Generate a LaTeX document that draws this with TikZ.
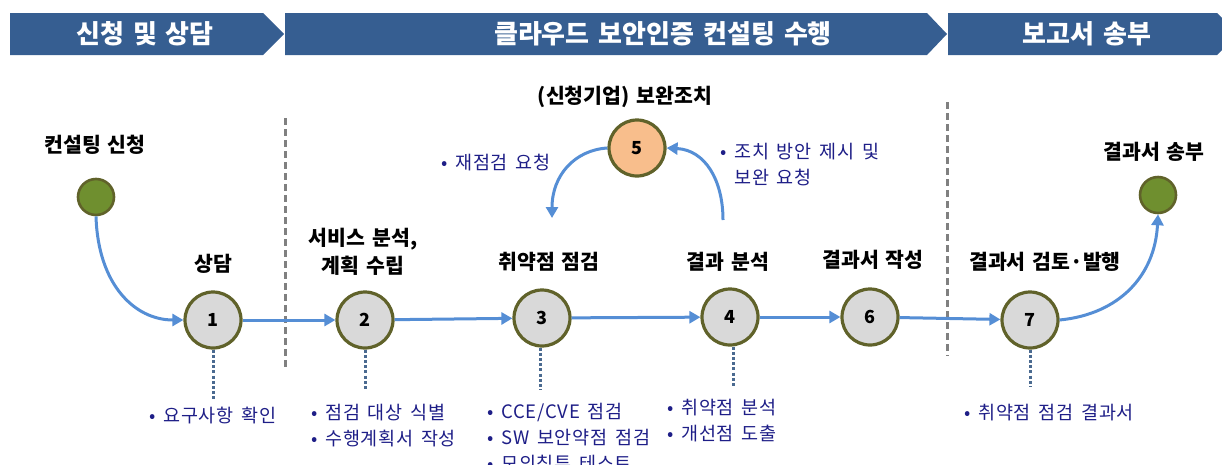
\documentclass[tikz,border=0pt]{standalone}
\usepackage{fontspec}
\setmainfont{Noto Sans CJK KR}
\newfontfamily\titlefont[WordSpace=1.5]{Noto Sans CJK KR}
\newfontfamily\notefont[LetterSpace=4,WordSpace=1.6]{Noto Sans CJK KR}
\usetikzlibrary{arrows.meta,calc}
\definecolor{barblue}{RGB}{54,94,145}
\definecolor{flowblue}{RGB}{85,142,213}
\definecolor{rimolive}{RGB}{96,98,42}
\definecolor{startgreen}{RGB}{111,143,47}
\definecolor{nodegray}{RGB}{217,217,217}
\definecolor{actorange}{RGB}{248,190,140}
\definecolor{notenavy}{RGB}{30,30,135}
\definecolor{leadgray}{RGB}{74,106,144}

\begin{document}
\begin{tikzpicture}[x=1pt,y=-1pt,
    phase/.style={fill=barblue},
    phasetext/.style={text=white,font=\titlefont\fontsize{26}{30}\selectfont\bfseries},
    stage/.style={circle,draw=rimolive,line width=3.2pt,fill=nodegray,minimum size=56pt,inner sep=0pt,font=\fontsize{18}{20}\selectfont\bfseries},
    endpt/.style={circle,draw=rimolive,line width=2.6pt,fill=startgreen,minimum size=36pt,inner sep=0pt},
    title/.style={font=\titlefont\fontsize{20.5}{28}\selectfont\bfseries,align=center,inner sep=0pt},
    note/.style={text=notenavy,font=\notefont\fontsize{18.5}{26}\selectfont,align=left,anchor=west,inner sep=0pt},
    flow/.style={-{Triangle[length=11pt,width=12pt]},draw=flowblue,line width=3pt},
    lead/.style={draw=leadgray,line width=3pt,dash pattern=on 3pt off 2.2pt},
    split/.style={draw=gray,line width=3pt,dash pattern=on 7pt off 4pt}]
    \useasboundingbox (0,0) rectangle (1222,464);
    \clip (0,0) rectangle (1222,464);

    % phase bars
    \fill[phase] (10,13)--(263,13)--(284,34)--(263,55)--(10,55)--cycle;
    \fill[phase] (285,13)--(927,13)--(947,34)--(927,55)--(285,55)--cycle;
    \fill[phase] (948,13)--(1217,13)--(1238,34)--(1217,55)--(948,55)--cycle;
    \node[phasetext] (ph1) at (145,34) {신청 및 상담};
    \node[phasetext] (ph2) at (663,34) {클라우드 보안인증 컨설팅 수행};
    \node[phasetext] (ph3) at (1087,34) {보고서 송부};

    % separators
    \draw[split] (285,118)--(285,368);
    \draw[split] (947,102)--(947,356);

    % stages
    \node[endpt] (s0) at (96,197) {};
    \node[stage] (s1) at (213,320) {1};
    \node[stage] (s2) at (365,320) {2};
    \node[stage] (s3) at (542,318) {3};
    \node[stage] (s4) at (730,317) {4};
    \node[stage,fill=actorange] (s5) at (637,148) {5};
    \node[stage] (s6) at (870,317) {6};
    \node[stage] (s7) at (1030,320) {7};
    \node[endpt] (s8) at (1158,195) {};

    % titles
    \node[title] (t0) at (95,145) {컨설팅 신청};
    \node[title] (t1) at (213,264) {상담};
    \node[title] (t2) at (363,252) {서비스 분석,\\계획 수립};
    \node[title] (t3) at (549,262) {취약점 점검};
    \node[title] (t4) at (728,262) {결과 분석};
    \node[title] (t5) at (625,97) {(신청기업) 보완조치};
    \node[title] (t6) at (873,260) {결과서 작성};
    \node[title] (t7) at (1045,262) {결과서 검토·발행};
    \node[title] (t8) at (1154,152) {결과서 송부};

    % flow
    \coordinate (r5) at (723,220);
    \coordinate (r3) at (552,218);
    \draw[flow] (s0.south) .. controls (98,285) and (135,320) .. (s1.west);
    \draw[flow] (s1) -- (s2);
    \draw[flow] (s2) -- (s3);
    \draw[flow] (s3) -- (s4);
    \draw[flow] (s4) -- (s6);
    \draw[flow] (s6) -- (s7);
    \draw[flow] (r5) .. controls (723,180) and (705,150) .. (s5.east);
    \draw[flow] (s5.west) .. controls (575,150) and (552,175) .. (r3);
    \draw[flow] (s7.east) .. controls (1120,314) and (1155,275) .. (s8.south);

    % notes
    \node[note] (n5a) at (441,163) {• 재점검 요청};
    \node[note] (n5b) at (720,165) {• 조치 방안 제시 및\\\phantom{• }보완 요청};
    \coordinate (d1) at (213,400);
    \coordinate (d2) at (365,390);
    \coordinate (d3) at (540,390);
    \coordinate (d4) at (733,388);
    \coordinate (d7) at (1030,387);
    \draw[lead] (s1.south) -- (d1);
    \draw[lead] (s2.south) -- (d2);
    \draw[lead] ([xshift=-2pt]s3.south) -- (d3);
    \draw[lead] ([xshift=3pt]s4.south) -- (d4);
    \draw[lead] (s7.south) -- (d7);
    \node[note] (n1) at (149,416) {• 요구사항 확인};
    \node[note] (n2) at (311,426) {• 점검 대상 식별\\• 수행계획서 작성};
    \node[note] (n3) at (487,438) {• CCE/CVE 점검\\• SW 보안약점 점검\\• 모의침투 테스트};
    \node[note] (n4) at (667,421) {• 취약점 분석\\• 개선점 도출};
    \node[note] (n7) at (964,413) {• 취약점 점검 결과서};
\end{tikzpicture}
\end{document}
